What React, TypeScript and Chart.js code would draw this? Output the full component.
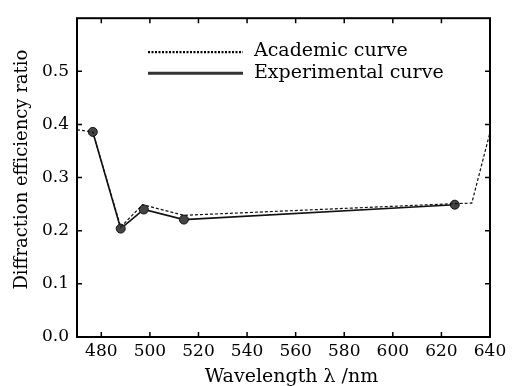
import React, { useEffect, useRef } from "react";
import { Chart, registerables } from "chart.js";

Chart.register(...registerables);

const expWavelengths = [476.5, 488, 497.5, 514, 625.5];
const expValues = [0.386, 0.204, 0.24, 0.221, 0.249];
const acadWavelengths = [470, 476.5, 488, 497, 514, 625.5, 632.5, 640];
const acadValues = [0.39, 0.386, 0.207, 0.249, 0.229, 0.251, 0.252, 0.385];
const xTicks = [480, 500, 520, 540, 560, 580, 600, 620, 640];
const yTicks = [0, 0.1, 0.2, 0.3, 0.4, 0.5];
const legendLabels = ["Academic curve", "Experimental curve"];
const xTitle = "Wavelength λ /nm";
const yTitle = "Diffraction efficiency ratio";

const FONT = "'DejaVu Serif', serif";
const INK = "#000";

const framePlugin = {
  id: "frame",
  afterDraw(chart: any) {
    const { ctx, chartArea: a, scales } = chart;
    ctx.save();
    ctx.strokeStyle = INK;
    ctx.lineWidth = 2;
    ctx.strokeRect(a.left, a.top, a.right - a.left, a.bottom - a.top);
    ctx.lineWidth = 1.5;
    const tl = 5;
    xTicks.forEach((v) => {
      const px = scales.x.getPixelForValue(v);
      ctx.beginPath();
      ctx.moveTo(px, a.bottom);
      ctx.lineTo(px, a.bottom - tl);
      ctx.moveTo(px, a.top);
      ctx.lineTo(px, a.top + tl);
      ctx.stroke();
    });
    yTicks.forEach((v) => {
      const py = scales.y.getPixelForValue(v);
      ctx.beginPath();
      ctx.moveTo(a.left, py);
      ctx.lineTo(a.left + tl, py);
      ctx.moveTo(a.right, py);
      ctx.lineTo(a.right - tl, py);
      ctx.stroke();
    });
    // axis titles
    ctx.fillStyle = INK;
    ctx.textBaseline = "alphabetic";
    ctx.textAlign = "center";
    ctx.font = "19px " + FONT;
    ctx.fillText(xTitle, (a.left + a.right) / 2 + 8, chart.height - 4);
    ctx.save();
    ctx.translate(27, (a.top + a.bottom) / 2 - 8);
    ctx.rotate(-Math.PI / 2);
    ctx.font = "18px " + FONT;
    ctx.fillText(yTitle, 0, 0);
    ctx.restore();
    // legend
    const lx0 = a.left + 71;
    const lx1 = a.left + 166;
    const tx = a.left + 177;
    const rows = [a.top + 34, a.top + 55];
    const baselines = [a.top + 38, a.top + 60];
    ctx.font = "19px " + FONT;
    ctx.textAlign = "left";
    ctx.lineWidth = 2.2;
    ctx.setLineDash([2, 1.5]);
    ctx.beginPath();
    ctx.moveTo(lx0, rows[0]);
    ctx.lineTo(lx1, rows[0]);
    ctx.stroke();
    ctx.setLineDash([]);
    ctx.lineWidth = 3;
    ctx.strokeStyle = "#333";
    ctx.beginPath();
    ctx.moveTo(lx0, rows[1]);
    ctx.lineTo(lx1, rows[1]);
    ctx.stroke();
    ctx.fillText(legendLabels[0], tx, baselines[0]);
    ctx.fillText(legendLabels[1], tx, baselines[1]);
    ctx.restore();
  },
};

export default function App() {
  const ref = useRef<HTMLCanvasElement>(null);
  useEffect(() => {
    const chart = new Chart(ref.current!, {
      type: "line",
      data: {
        datasets: [
          {
            label: legendLabels[0],
            data: acadWavelengths.map((x, i) => ({ x, y: acadValues[i] })),
            borderColor: "#111",
            borderWidth: 1.2,
            borderDash: [3, 2],
            pointRadius: 0,
            fill: false,
          },
          {
            label: legendLabels[1],
            data: expWavelengths.map((x, i) => ({ x, y: expValues[i] })),
            borderColor: "#111",
            borderWidth: 1.6,
            pointRadius: 4.5,
            pointBackgroundColor: "#444",
            pointBorderColor: "#111",
            pointBorderWidth: 1,
            fill: false,
          },
        ],
      },
      options: {
        animation: false,
        responsive: false,
        maintainAspectRatio: false,
        layout: { padding: { left: 0, top: 13, right: 24, bottom: 0 } },
        plugins: { legend: { display: false }, tooltip: { enabled: false } },
        scales: {
          x: {
            type: "linear",
            min: 470,
            max: 640,
            afterBuildTicks: (s: any) => {
              s.ticks = xTicks.map((value) => ({ value }));
            },
            afterFit: (s: any) => {
              s.height = 49;
            },
            grid: { display: false, drawTicks: false },
            border: { display: false },
            ticks: {
              color: INK,
              font: { family: FONT, size: 17 },
              padding: 4,
              maxRotation: 0,
              callback: (v: any) => String(v),
            },
          },
          y: {
            type: "linear",
            min: 0,
            max: 0.6,
            afterBuildTicks: (s: any) => {
              s.ticks = yTicks.map((value) => ({ value }));
            },
            afterFit: (s: any) => {
              s.width = 77;
            },
            grid: { display: false, drawTicks: false },
            border: { display: false },
            ticks: {
              color: INK,
              font: { family: FONT, size: 17 },
              padding: 8,
              callback: (v: any) => Number(v).toFixed(1),
            },
          },
        },
      },
      plugins: [framePlugin],
    } as any);
    return () => chart.destroy();
  }, []);
  return (
    <div style={{ position: "absolute", left: 0, top: 0, width: 514, height: 386, background: "#fff" }}>
      <canvas ref={ref} width={514} height={386} style={{ width: 514, height: 386 }} />
    </div>
  );
}
